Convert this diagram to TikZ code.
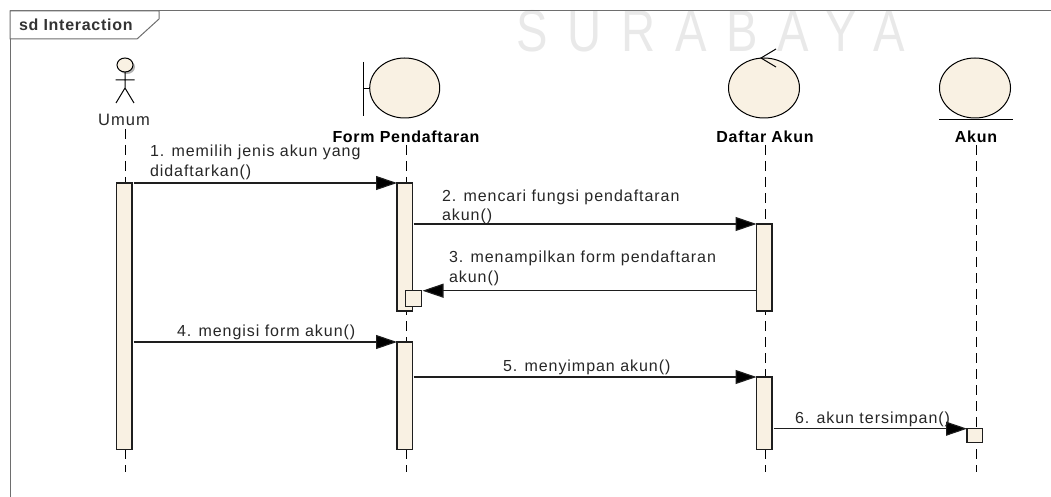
\documentclass[tikz,border=0pt]{standalone}
\usepackage{fontspec}
\setmainfont{Liberation Sans}
\newfontfamily\wmfont[LetterSpace=42]{Liberation Sans}
\newfontfamily\lblfont[LetterSpace=6]{Liberation Sans}
\newfontfamily\headfont[LetterSpace=4.5]{Liberation Sans}
\usetikzlibrary{arrows.meta}
\definecolor{fillc}{HTML}{F9F1E3}
\definecolor{linec}{HTML}{1E1E1E}
\definecolor{framec}{HTML}{6E6E6E}
\definecolor{wmc}{HTML}{E9E9E9}
\tikzset{
  x=1pt,y=-1pt,
  activ/.style={draw=linec,line width=1.2pt,fill=fillc,minimum width=15.5pt,inner sep=0pt,outer sep=0pt,anchor=north west},
  msg/.style={draw=linec,line width=1.1pt,-{Triangle[length=21pt,width=14pt,fill=black]}},
  life/.style={draw=black,line width=1pt,dash pattern=on 10pt off 6pt},
  lbl/.style={anchor=west,inner sep=0pt,outer sep=0pt,text=black!85,font=\fontsize{16}{18}\lblfont},
  head/.style={inner sep=0pt,outer sep=0pt,text=black,font=\fontsize{16}{18}\headfont\bfseries},
}
\begin{document}
\begin{tikzpicture}
\useasboundingbox (0,0) rectangle (1051,497);
% watermark
\node[anchor=west,inner sep=0pt,text=wmc,font=\fontsize{59}{62}\wmfont,xscale=.8,transform shape] (wm) at (516,31) {SURABAYA};
% frame
\draw[framec,line width=1pt] (1051,11) -- (10,11) -- (10,497);
\draw[framec,line width=1pt,fill=white] (10,11) -- (159,11) -- (159,19) -- (137,39) -- (10,39) -- cycle;
\node[head,anchor=west,text=black!80] (title) at (19,25) {sd Interaction};
% actor
\fill[black!30] (127,67) ellipse (8 and 7);
\draw[black,line width=1pt,fill=fillc] (125,65) ellipse (8 and 7);
\draw[black,line width=1pt] (125,72) -- (125,88) (115.5,80) -- (134.5,80) (116,103) -- (125,88) -- (134,103);
\node[lbl,anchor=center,font=\fontsize{16.5}{18}\lblfont] (umum) at (124,120) {Umum};
% boundary
\draw[black,line width=1pt,fill=fillc] (404.7,88) ellipse (35 and 30);
\draw[black,line width=1pt] (363,62) -- (363,116) (363,89) -- (369.7,89);
\node[head] (form) at (406,137) {Form Pendaftaran};
% control
\draw[black,line width=1pt,fill=fillc] (764,88) ellipse (35.5 and 30);
\draw[black,line width=1pt] (776,49) -- (761,58) -- (776,67);
\node[head] (daftar) at (765,137) {Daftar Akun};
% entity
\draw[black,line width=1pt,fill=fillc] (975,88) ellipse (35.5 and 30);
\draw[black,line width=1pt] (939,120) -- (1012.5,120);
\node[head] (akun) at (976,137) {Akun};
% lifelines
\coordinate (ue) at (125,472);
\coordinate (fe) at (406,472);
\coordinate (de) at (765,472);
\coordinate (ae) at (976,472);
\draw[life] (125,129) -- (ue);
\draw[life] (406,145) -- (fe);
\draw[life] (765,145) -- (de);
\draw[life] (976,145) -- (ae);
% activations
\node[activ,minimum height=266.5pt] (u1) at (116.5,183) {};
\node[activ,minimum height=128pt] (f1) at (397,183) {};
\node[activ,minimum height=107.5pt] (f2) at (397,342) {};
\node[activ,minimum height=16pt,minimum width=16pt] (f3) at (405.5,290.7) {};
\node[activ,minimum height=87pt] (d1) at (756.5,224) {};
\node[activ,minimum height=72.5pt] (d2) at (756.5,377) {};
\node[activ,minimum height=13.5pt] (a1) at (967,428.7) {};
% messages
\draw[msg] ([xshift=1.5pt]u1.east |- f1.north west) -- (f1.north west);
\draw[msg] ([xshift=1pt]f1.east |- d1.north west) -- (d1.north west);
\draw[msg] (d1.west |- f3.north east) -- ([xshift=1pt]f3.north east);
\draw[msg] ([xshift=1.5pt]u1.east |- f2.north west) -- (f2.north west);
\draw[msg] ([xshift=1pt]f2.east |- d2.north west) -- (d2.north west);
\draw[msg] ([xshift=1.5pt]d2.east |- a1.north west) -- (a1.north west);
% labels
\node[lbl] (m1a) at (150,152) {1. memilih jenis akun yang};
\node[lbl] (m1b) at (150,172) {didaftarkan()};
\node[lbl] (m2a) at (442,197) {2. mencari fungsi pendaftaran};
\node[lbl] (m2b) at (442,216) {akun()};
\node[lbl] (m3a) at (449,258) {3. menampilkan form pendaftaran};
\node[lbl] (m3b) at (449,278) {akun()};
\node[lbl] (m4) at (177,332) {4. mengisi form akun()};
\node[lbl] (m5) at (503,367) {5. menyimpan akun()};
\node[lbl] (m6) at (795,419) {6. akun tersimpan()};
\end{tikzpicture}
\end{document}
